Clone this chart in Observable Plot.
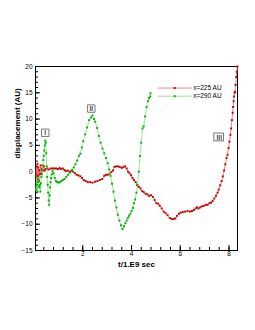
<!DOCTYPE html>
<html>
<head>
<meta charset="utf-8">
<script src="https://cdn.jsdelivr.net/npm/d3@7"></script>
<script src="https://cdn.jsdelivr.net/npm/@observablehq/plot@0.6"></script>
<style>
  body { margin: 0; background: #fff; }
  svg { font-family: "Liberation Sans", Arial, sans-serif; }
</style>
</head>
<body>
<div id="chart"></div>
<script>
// Series x = 225 AU (red): [t, displacement]
const red225 = [
  [0.08,-0.5],[0.1,1.0],[0.12,-1.5],[0.14,1.5],[0.16,-0.8],[0.18,0.8],[0.2,-1.8],[0.22,0.3],[0.24,-0.5],[0.27,1.2],
  [0.3,-0.3],[0.33,0.6],[0.36,0.2],[0.4,1.0],[0.44,0.2],[0.48,0.5],[0.54,0.6],[0.6,0.4],[0.68,0.6],[0.75,0.6],
  [0.82,0.6],[0.9,0.6],[0.98,0.5],[1.05,0.7],[1.1,0.5],[1.18,0.6],[1.25,0.3],[1.3,0.1],[1.38,0.2],[1.45,0.0],
  [1.52,0.1],[1.6,0.0],[1.68,-0.3],[1.75,-0.6],[1.82,-0.7],[1.9,-0.9],[1.97,-1.2],[2.04,-1.6],[2.12,-1.8],[2.2,-2.0],
  [2.3,-2.0],[2.4,-2.1],[2.5,-1.9],[2.6,-1.8],[2.7,-1.6],[2.8,-1.4],[2.88,-0.8],[2.95,-0.6],[3.02,-0.6],[3.1,-0.4],
  [3.17,-0.1],[3.24,0.2],[3.3,0.9],[3.37,1.0],[3.45,1.0],[3.52,0.9],[3.6,0.7],[3.67,0.9],[3.74,1.0],[3.8,0.6],
  [3.86,0.0],[3.92,-0.3],[3.98,-0.7],[4.04,-1.2],[4.1,-1.6],[4.17,-2.0],[4.23,-2.6],[4.3,-2.9],[4.37,-3.2],[4.44,-3.7],
  [4.5,-3.9],[4.58,-4.2],[4.65,-4.3],[4.72,-4.6],[4.8,-4.5],[4.88,-4.8],[4.95,-5.4],[5.02,-6.0],[5.1,-6.1],[5.16,-6.5],
  [5.24,-7.0],[5.32,-7.6],[5.4,-7.9],[5.48,-8.3],[5.57,-8.8],[5.65,-9.0],[5.73,-9.0],[5.8,-8.9],[5.87,-8.4],[5.95,-8.0],
  [6.02,-7.8],[6.1,-7.7],[6.2,-7.6],[6.3,-7.5],[6.4,-7.6],[6.48,-7.5],[6.56,-7.3],[6.63,-7.0],[6.69,-6.8],[6.75,-7.0],
  [6.82,-6.8],[6.89,-6.6],[6.97,-6.5],[7.05,-6.3],[7.12,-6.3],[7.2,-6.0],[7.27,-5.9],[7.33,-5.6],[7.4,-5.1],[7.47,-4.6],
  [7.53,-4.0],[7.58,-3.4],[7.64,-2.6],[7.7,-1.8],[7.75,-0.9],[7.8,0.2],[7.85,1.4],[7.9,2.6],[7.94,3.2],[7.98,4.5],
  [8.02,5.7],[8.06,7.0],[8.09,8.2],[8.12,9.8],[8.15,11.2],[8.17,12.3],[8.19,13.4],[8.21,14.3],[8.23,15.0],[8.25,15.2],
  [8.27,16.5],[8.3,18.0],[8.32,19.0],[8.35,20.0]
];
// Series x = 290 AU (green): [t, displacement]
const green290 = [
  [0.08,-3.5],[0.1,-1.0],[0.12,-2.5],[0.14,-3.8],[0.16,-2.0],[0.18,-1.5],[0.2,-2.8],[0.22,-3.0],[0.24,-2.5],[0.26,-3.8],
  [0.28,-2.2],[0.3,-1.0],[0.32,-0.5],[0.34,0.3],[0.36,1.2],[0.38,2.2],[0.4,3.0],[0.42,4.0],[0.44,5.0],[0.46,5.9],
  [0.48,5.5],[0.5,3.5],[0.52,1.0],[0.54,-1.0],[0.56,-2.5],[0.58,-4.0],[0.6,-5.5],[0.62,-6.3],[0.64,-4.5],[0.66,-3.0],
  [0.68,-2.0],[0.7,-1.2],[0.73,-0.5],[0.76,0.1],[0.8,-0.3],[0.85,-1.2],[0.9,-1.8],[0.95,-2.0],[1.0,-2.1],[1.06,-2.0],
  [1.12,-1.8],[1.18,-1.6],[1.25,-1.4],[1.32,-1.0],[1.4,-0.6],[1.48,-0.2],[1.56,0.3],[1.63,0.8],[1.7,1.4],[1.77,2.1],
  [1.84,3.0],[1.9,3.4],[1.96,4.6],[2.02,5.8],[2.1,7.1],[2.18,8.4],[2.26,9.8],[2.33,10.3],[2.4,10.7],[2.46,10.0],
  [2.51,9.5],[2.59,8.3],[2.66,6.8],[2.73,5.5],[2.81,4.4],[2.88,3.5],[2.95,2.6],[3.02,1.6],[3.08,0.4],[3.14,-0.8],
  [3.2,-2.3],[3.26,-3.8],[3.32,-5.5],[3.38,-6.8],[3.44,-8.2],[3.5,-9.3],[3.57,-10.2],[3.63,-10.9],[3.69,-10.4],[3.75,-9.8],
  [3.8,-9.3],[3.85,-8.8],[3.9,-8.4],[3.95,-8.0],[4.0,-7.5],[4.06,-6.9],[4.1,-6.0],[4.15,-5.3],[4.2,-4.0],[4.25,-2.5],
  [4.3,0.0],[4.35,3.0],[4.4,5.5],[4.45,8.2],[4.5,8.6],[4.56,10.5],[4.62,12.3],[4.68,13.4],[4.72,14.0],[4.77,14.3],
  [4.78,14.9]
];

const seriesNames = ["x=225 AU", "x=290 AU"];
const lineColors = ["#e46a6a", "#7ee07e"];
const dotColors = ["#cc0000", "#00b400"];

const xMajorTicks = [2, 4, 6, 8];
const xMinorTicks = d3.range(1, 21).map(i => +(i * 0.4).toFixed(1));
const yMajorTicks = [-15, -10, -5, 0, 5, 10, 15, 20];
const yMinorTicks = d3.range(-15, 21);

// Region annotations
const regionLabels = ["I", "II", "III"];
const regionT = [0.46, 2.35, 7.6];
const regionD = [7.4, 12.0, 6.5];

// Legend placement (data space)
const legendT = [5.1, 6.45];
const legendD = [15.9, 14.35];

const regions = regionLabels.map((l, i) => ({label: l, t: regionT[i], d: regionD[i]}));
const legendRows = seriesNames.map((n, i) => ({name: n, d: legendD[i], i}));
const legendLines = legendRows.flatMap(r => legendT.map(t => ({t, d: r.d, i: r.i})));
const legendDots = legendRows.map(r => ({t: (legendT[0] + legendT[1]) / 2, d: r.d, i: r.i}));

const plot = Plot.plot({
  width: 255,
  height: 330,
  marginLeft: 35,
  marginRight: 18,
  marginTop: 66,
  marginBottom: 80,
  style: {fontFamily: "Liberation Sans, Arial, sans-serif", background: "#fff"},
  x: {domain: [0.06, 8.35]},
  y: {domain: [-15, 20]},
  marks: [
    Plot.axisX({ticks: xMinorTicks, tickSize: -3, tickFormat: () => "", stroke: "#000", label: null}),
    Plot.axisX({ticks: xMajorTicks, tickSize: -5, tickFormat: () => "", stroke: "#000", label: null}),
    Plot.axisX({ticks: xMajorTicks, tickSize: 0, tickPadding: 1, fontSize: 6.5, fill: "#000", label: null}),
    Plot.axisY({ticks: yMinorTicks, tickSize: -3, tickFormat: () => "", stroke: "#000", label: null}),
    Plot.axisY({ticks: yMajorTicks, tickSize: -5, tickFormat: () => "", stroke: "#000", label: null}),
    Plot.axisY({ticks: yMajorTicks, tickSize: 0, tickPadding: 3, fontSize: 6.5, fill: "#000", label: null}),
    Plot.frame({stroke: "#000", strokeWidth: 1}),
    Plot.line(red225, {x: d => d[0], y: d => d[1], stroke: lineColors[0], strokeWidth: 0.8}),
    Plot.dot(red225, {x: d => d[0], y: d => d[1], symbol: "square", r: 1.1, fill: dotColors[0]}),
    Plot.line(green290, {x: d => d[0], y: d => d[1], stroke: lineColors[1], strokeWidth: 0.8}),
    Plot.dot(green290, {x: d => d[0], y: d => d[1], symbol: "square", r: 1.1, fill: dotColors[1]}),
    // legend
    Plot.line(legendLines, {x: "t", y: "d", z: "i", stroke: d => lineColors[d.i], strokeWidth: 0.8}),
    Plot.dot(legendDots, {x: "t", y: "d", symbol: "square", r: 1.1, fill: d => dotColors[d.i]}),
    Plot.text(legendRows, {x: () => legendT[1], y: "d", text: "name", textAnchor: "start", dx: 2, fontSize: 6.5, fill: "#000"}),
    // region boxes
    Plot.dot(regions.filter(r => r.label !== "III"), {x: "t", y: "d", symbol: "square", r: 4.2, stroke: "#555", strokeWidth: 0.8, fill: "#fff"}),
    Plot.rect(regions.filter(r => r.label === "III"), {x1: d => d.t - 0.2, x2: d => d.t + 0.2, y1: d => d.d - 0.75, y2: d => d.d + 0.75, stroke: "#555", strokeWidth: 0.8, fill: "#fff"}),
    Plot.text(regions, {x: "t", y: "d", text: "label", fontSize: 6.5, fontWeight: "bold", fill: "#444"}),
    // axis titles
    Plot.text(["displacement (AU)"], {frameAnchor: "left", rotate: -90, dx: -18, fontSize: 8, fontWeight: "bold", fill: "#000"}),
    Plot.text(["t/1.E9 sec"], {frameAnchor: "bottom", dy: 16, fontSize: 8, fontWeight: "bold", fill: "#000"})
  ]
});
document.getElementById("chart").appendChild(plot);
</script>
</body>
</html>
